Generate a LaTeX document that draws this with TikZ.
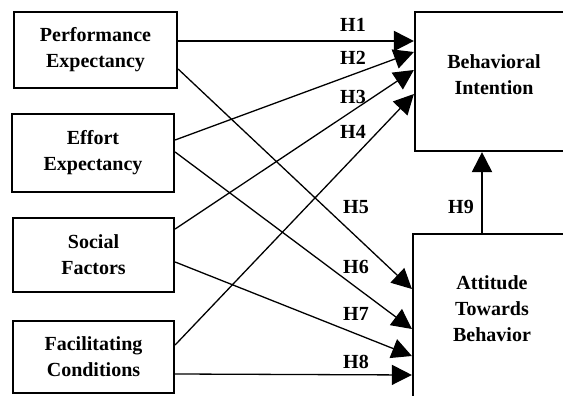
\documentclass[tikz,border=0pt]{standalone}
\usepackage{fontspec}
\setmainfont{Liberation Serif}
\usetikzlibrary{arrows.meta}
\begin{document}
\begin{tikzpicture}[x=1pt,y=1pt,
  box/.style={draw=black,line width=2.2pt,rectangle,inner sep=0pt},
  txt/.style={font=\fontsize{20}{26}\selectfont\bfseries,align=center,inner sep=0pt},
  hlbl/.style={font=\fontsize{20}{24}\selectfont\bfseries,inner sep=0pt},
  conn/.style={line width=1.3pt,-{Triangle[length=20pt,width=20pt]}},
  thick conn/.style={line width=2pt,-{Triangle[length=20pt,width=20pt]}}]
\clip (0,0) rectangle (563,396);
\fill[white] (0,0) rectangle (563,396);
% left boxes
\node[box,minimum width=163,minimum height=76,txt] (PE) at (95.5,346) {Performance\\Expectancy};
\node[box,minimum width=162,minimum height=78,txt] (EE) at (93,243) {Effort\\Expectancy};
\node[box,minimum width=161,minimum height=74,txt] (SF) at (93.5,141) {Social\\Factors};
\node[box,minimum width=161,minimum height=72,txt] (FC) at (93.5,39) {Facilitating\\Conditions};
% right boxes
\node[box,minimum width=158,minimum height=139] (BI) at (494,314.5) {};
\node[txt] (BIt) at (494,321) {Behavioral\\Intention};
\node[box,minimum width=158,minimum height=186] (ATB) at (492,69) {};
\node[txt] (ATBt) at (492,87) {Attitude\\Towards\\Behavior};
% connectors
\draw[thick conn] ([yshift=9pt]PE.east) -- ([yshift=40.5pt]BI.west);
\draw[conn] ([yshift=13pt]EE.east) -- ([yshift=29.5pt]BI.west);
\draw[conn] ([yshift=26pt]SF.east) -- ([yshift=11.5pt]BI.west);
\draw[conn] ([yshift=12pt]FC.east) -- ([yshift=-12.5pt]BI.west);
\draw[conn] ([yshift=-19pt]PE.east) -- ([yshift=38pt]ATB.west);
\draw[conn] ([yshift=1pt]EE.east) -- ([yshift=-2pt]ATB.west);
\draw[conn] ([yshift=-7pt]SF.east) -- ([yshift=-29pt]ATB.west);
\draw[conn] ([yshift=-17pt]FC.east) -- ([yshift=-48pt]ATB.west);
\draw[thick conn] ([xshift=-10pt]ATB.north) -- ([xshift=-10pt]ATB.north |- BI.south);
% labels
\node[hlbl] (h1) at (353,371) {H1};
\node[hlbl] (h2) at (353,338) {H2};
\node[hlbl] (h3) at (353,299) {H3};
\node[hlbl] (h4) at (353,264) {H4};
\node[hlbl] (h5) at (356,189) {H5};
\node[hlbl] (h6) at (356,129) {H6};
\node[hlbl] (h7) at (356,82) {H7};
\node[hlbl] (h8) at (356,34) {H8};
\node[hlbl] (h9) at (461,189) {H9};
\end{tikzpicture}
\end{document}
